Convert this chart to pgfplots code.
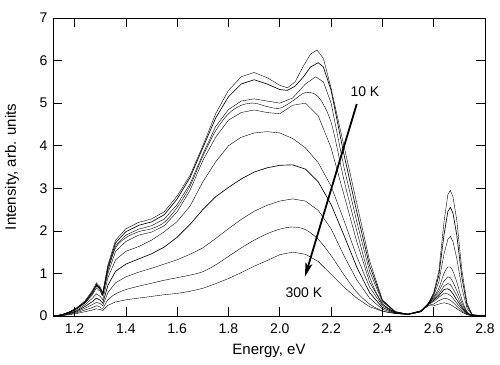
\documentclass[border=0pt]{standalone}
\usepackage{pgfplots}
\pgfplotsset{compat=1.18}
\usepackage{fontspec}
\setmainfont{Liberation Sans}
\usetikzlibrary{arrows.meta}
\begin{document}
\begin{tikzpicture}
\begin{axis}[
  scale only axis, width=432pt, height=298pt,
  xmin=1.116, xmax=2.8, ymin=0, ymax=7,
  xtick={1.2,1.4,1.6,1.8,2.0,2.2,2.4,2.6,2.8},
  ytick={0,1,2,3,4,5,6,7},
  tick align=inside, major tick length=9pt,
  tick style={black, line width=0.7pt},
  axis line style={line width=0.8pt},
  minor tick num=0,
  /pgf/number format/assume math mode=true,
  ticklabel style={font=\fontsize{14}{16}\selectfont},
  xticklabel style={yshift=-4pt, /pgf/number format/.cd, fixed, fixed zerofill, precision=1},
  yticklabel style={xshift=-2pt},
  every axis x label/.style={at={(axis description cs:0.5,0)}, anchor=center, yshift=-35pt},
  every axis y label/.style={at={(axis description cs:-0.0949,0.5)}, anchor=center, rotate=90},
  label style={font=\fontsize{15}{17}\selectfont},
  xlabel={Energy, eV},
  ylabel={Intensity, arb. units},
  cycle list={{black, line width=0.65pt, no markers, smooth, tension=0.4}},
  clip=true,
]
% curve 1 (10 K)
\addplot coordinates {(1.12,0) (1.15,0.03) (1.18,0.1) (1.21,0.2) (1.24,0.35) (1.27,0.6) (1.285,0.78) (1.30,0.68) (1.31,0.55) (1.33,1.2) (1.36,1.78) (1.40,2.05) (1.45,2.2) (1.50,2.28) (1.55,2.45) (1.60,2.82) (1.65,3.3) (1.70,4.0) (1.75,4.75) (1.80,5.3) (1.85,5.62) (1.90,5.72) (1.95,5.6) (2.00,5.42) (2.03,5.36) (2.06,5.5) (2.09,5.85) (2.12,6.15) (2.145,6.25) (2.17,6.05) (2.20,5.35) (2.25,4.0) (2.30,2.65) (2.35,1.3) (2.40,0.38) (2.45,0.1) (2.50,0.04) (2.55,0.1) (2.58,0.3) (2.60,0.55) (2.62,1.05) (2.64,2.2) (2.655,2.85) (2.665,2.95) (2.675,2.8) (2.69,2.25) (2.71,1.07) (2.73,0.3) (2.75,0.03) (2.80,0)};
% curve 2
\addplot coordinates {(1.12,0) (1.15,0.03) (1.18,0.09) (1.21,0.19) (1.24,0.33) (1.27,0.57) (1.285,0.74) (1.30,0.65) (1.31,0.53) (1.33,1.15) (1.36,1.72) (1.40,1.98) (1.45,2.13) (1.50,2.21) (1.55,2.38) (1.60,2.75) (1.65,3.25) (1.70,3.95) (1.75,4.65) (1.80,5.15) (1.85,5.45) (1.90,5.55) (1.95,5.45) (2.00,5.32) (2.03,5.3) (2.06,5.4) (2.09,5.6) (2.12,5.85) (2.15,5.95) (2.17,5.85) (2.20,5.3) (2.25,3.8) (2.30,2.45) (2.35,1.18) (2.40,0.36) (2.45,0.1) (2.50,0.04) (2.55,0.1) (2.58,0.3) (2.60,0.52) (2.62,0.95) (2.64,1.9) (2.655,2.45) (2.665,2.55) (2.675,2.42) (2.69,1.9) (2.71,0.9) (2.73,0.25) (2.75,0.03) (2.80,0)};
% curve 3
\addplot coordinates {(1.12,0) (1.15,0.03) (1.18,0.09) (1.21,0.18) (1.24,0.32) (1.27,0.55) (1.285,0.72) (1.30,0.63) (1.31,0.51) (1.33,1.1) (1.36,1.65) (1.40,1.9) (1.45,2.04) (1.50,2.12) (1.55,2.28) (1.60,2.62) (1.65,3.1) (1.70,3.8) (1.75,4.45) (1.80,4.85) (1.85,5.05) (1.90,5.1) (1.95,5.05) (2.00,5.0) (2.05,5.12) (2.10,5.45) (2.14,5.62) (2.17,5.5) (2.20,5.0) (2.25,3.5) (2.30,2.22) (2.35,1.05) (2.40,0.33) (2.45,0.1) (2.50,0.04) (2.55,0.1) (2.58,0.3) (2.60,0.48) (2.62,0.8) (2.64,1.45) (2.655,1.8) (2.665,1.87) (2.675,1.75) (2.69,1.35) (2.71,0.65) (2.73,0.18) (2.75,0.02) (2.80,0)};
% curve 4
\addplot coordinates {(1.12,0) (1.15,0.03) (1.18,0.09) (1.21,0.18) (1.24,0.31) (1.27,0.53) (1.285,0.7) (1.30,0.61) (1.31,0.5) (1.33,1.06) (1.36,1.6) (1.40,1.84) (1.45,1.98) (1.50,2.05) (1.55,2.2) (1.60,2.55) (1.65,3.05) (1.70,3.75) (1.75,4.35) (1.80,4.75) (1.85,4.95) (1.90,5.0) (1.95,4.92) (2.00,4.88) (2.05,5.05) (2.10,5.25) (2.15,5.15) (2.20,4.55) (2.25,3.2) (2.30,2.0) (2.35,0.92) (2.40,0.3) (2.45,0.09) (2.50,0.04) (2.55,0.11) (2.58,0.3) (2.60,0.45) (2.62,0.65) (2.64,1.0) (2.655,1.15) (2.665,1.15) (2.675,1.05) (2.69,0.8) (2.71,0.38) (2.73,0.1) (2.75,0.02) (2.80,0)};
% curve 5
\addplot coordinates {(1.12,0) (1.15,0.03) (1.18,0.08) (1.21,0.17) (1.24,0.3) (1.27,0.5) (1.285,0.66) (1.30,0.58) (1.31,0.48) (1.33,1.0) (1.36,1.52) (1.40,1.75) (1.45,1.9) (1.50,1.97) (1.55,2.12) (1.60,2.45) (1.65,2.95) (1.70,3.65) (1.75,4.2) (1.80,4.6) (1.85,4.78) (1.90,4.84) (1.95,4.78) (2.00,4.75) (2.05,4.95) (2.10,5.0) (2.15,4.7) (2.20,3.95) (2.25,2.85) (2.30,1.75) (2.35,0.8) (2.40,0.27) (2.45,0.09) (2.50,0.04) (2.55,0.11) (2.58,0.3) (2.60,0.42) (2.62,0.58) (2.64,0.82) (2.655,0.92) (2.665,0.9) (2.675,0.8) (2.69,0.6) (2.71,0.3) (2.73,0.08) (2.75,0.01) (2.80,0)};
% curve 6
\addplot coordinates {(1.12,0) (1.15,0.02) (1.18,0.07) (1.21,0.14) (1.24,0.26) (1.27,0.42) (1.285,0.52) (1.30,0.46) (1.31,0.38) (1.33,0.9) (1.36,1.32) (1.40,1.52) (1.45,1.63) (1.50,1.78) (1.55,1.98) (1.60,2.22) (1.65,2.58) (1.70,3.15) (1.75,3.62) (1.80,4.0) (1.85,4.2) (1.90,4.3) (1.95,4.33) (2.00,4.3) (2.05,4.17) (2.10,3.95) (2.15,3.6) (2.20,3.05) (2.25,2.25) (2.30,1.4) (2.35,0.68) (2.40,0.24) (2.45,0.08) (2.50,0.04) (2.55,0.12) (2.58,0.3) (2.60,0.4) (2.62,0.52) (2.64,0.7) (2.655,0.76) (2.665,0.74) (2.675,0.64) (2.69,0.48) (2.71,0.24) (2.73,0.07) (2.75,0.01) (2.80,0)};
% curve 7
\addplot coordinates {(1.12,0) (1.15,0.02) (1.18,0.06) (1.21,0.12) (1.24,0.22) (1.27,0.34) (1.285,0.42) (1.30,0.37) (1.31,0.3) (1.33,0.72) (1.36,1.05) (1.40,1.22) (1.45,1.34) (1.50,1.46) (1.55,1.62) (1.60,1.85) (1.65,2.15) (1.70,2.5) (1.75,2.8) (1.80,3.02) (1.85,3.22) (1.90,3.38) (1.95,3.48) (2.00,3.54) (2.05,3.55) (2.10,3.45) (2.15,3.15) (2.20,2.62) (2.25,1.9) (2.30,1.15) (2.35,0.55) (2.40,0.2) (2.45,0.07) (2.50,0.04) (2.55,0.12) (2.58,0.28) (2.60,0.37) (2.62,0.48) (2.64,0.62) (2.655,0.64) (2.665,0.6) (2.675,0.52) (2.69,0.38) (2.71,0.2) (2.73,0.06) (2.75,0.01) (2.80,0)};
% curve 8
\addplot coordinates {(1.12,0) (1.15,0.01) (1.18,0.05) (1.21,0.1) (1.24,0.18) (1.27,0.27) (1.285,0.32) (1.30,0.29) (1.31,0.24) (1.33,0.55) (1.36,0.78) (1.40,0.92) (1.45,1.03) (1.50,1.12) (1.55,1.22) (1.60,1.32) (1.65,1.45) (1.70,1.6) (1.75,1.82) (1.80,2.05) (1.85,2.27) (1.90,2.46) (1.95,2.6) (2.00,2.7) (2.05,2.75) (2.10,2.7) (2.15,2.48) (2.20,2.05) (2.25,1.42) (2.30,0.85) (2.35,0.42) (2.40,0.16) (2.45,0.06) (2.50,0.04) (2.55,0.12) (2.58,0.27) (2.60,0.34) (2.62,0.44) (2.64,0.53) (2.655,0.52) (2.665,0.48) (2.675,0.42) (2.69,0.3) (2.71,0.16) (2.73,0.05) (2.75,0.01) (2.80,0)};
% curve 9
\addplot coordinates {(1.12,0) (1.15,0.01) (1.18,0.04) (1.21,0.08) (1.24,0.14) (1.27,0.2) (1.285,0.24) (1.30,0.21) (1.31,0.18) (1.33,0.38) (1.36,0.52) (1.40,0.62) (1.45,0.7) (1.50,0.77) (1.55,0.84) (1.60,0.9) (1.65,0.96) (1.70,1.04) (1.75,1.2) (1.80,1.4) (1.85,1.6) (1.90,1.78) (1.95,1.93) (2.00,2.04) (2.05,2.09) (2.10,2.03) (2.15,1.8) (2.20,1.42) (2.25,0.97) (2.30,0.56) (2.35,0.28) (2.40,0.12) (2.45,0.06) (2.50,0.04) (2.55,0.12) (2.58,0.25) (2.60,0.28) (2.62,0.36) (2.64,0.41) (2.655,0.4) (2.665,0.37) (2.675,0.32) (2.69,0.23) (2.71,0.12) (2.73,0.04) (2.75,0.01) (2.80,0)};
% curve 10 (300 K)
\addplot coordinates {(1.12,0) (1.15,0.01) (1.18,0.03) (1.21,0.06) (1.24,0.1) (1.27,0.14) (1.285,0.17) (1.30,0.15) (1.31,0.13) (1.33,0.25) (1.36,0.33) (1.40,0.38) (1.45,0.42) (1.50,0.46) (1.55,0.5) (1.60,0.53) (1.65,0.58) (1.70,0.65) (1.75,0.76) (1.80,0.88) (1.85,1.02) (1.90,1.17) (1.95,1.3) (2.00,1.44) (2.05,1.5) (2.10,1.45) (2.15,1.28) (2.20,0.98) (2.25,0.68) (2.30,0.42) (2.35,0.22) (2.40,0.11) (2.45,0.06) (2.50,0.05) (2.55,0.12) (2.58,0.24) (2.60,0.24) (2.62,0.28) (2.64,0.31) (2.655,0.29) (2.665,0.27) (2.675,0.23) (2.69,0.17) (2.71,0.09) (2.73,0.03) (2.75,0.01) (2.80,0)};
\draw[line width=1.8pt, -{Stealth[length=14pt, width=7pt, inset=3pt]}] (axis cs:2.30,4.98) -- (axis cs:2.098,0.92);
\node[font=\fontsize{14}{16}\selectfont] at (axis cs:2.332,5.26) {10 K};
\node[font=\fontsize{14}{16}\selectfont] at (axis cs:2.094,0.55) {300 K};
\coordinate (O) at (rel axis cs:0,0);
\coordinate (T) at (rel axis cs:1,1);
\end{axis}
\pgfresetboundingbox
\path ([shift={(-53pt,-49pt)}]O) rectangle ([shift={(15pt,18pt)}]T);
\end{tikzpicture}
\end{document}
